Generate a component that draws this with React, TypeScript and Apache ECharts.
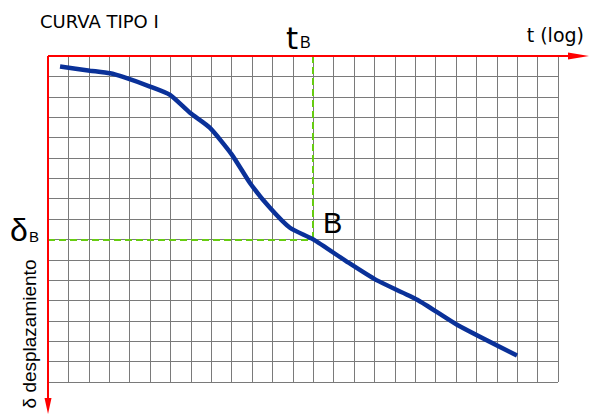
import React, { useEffect, useRef } from "react";
import * as echarts from "echarts";

const curveX = [0.59, 2.06, 3.04, 3.68, 5.0, 5.98, 6.96, 7.94, 9.02, 9.9, 10.88, 11.86, 13, 14.66, 16.1, 18.1, 20.05, 22.99];
const curveY = [0.52, 0.72, 0.85, 1.03, 1.5, 1.91, 2.79, 3.53, 4.85, 6.23, 7.45, 8.43, 9, 10.1, 11.0, 11.96, 13.19, 14.7];
const pointB = [13, 9];
const xMax = 25;
const yMax = 16;

const GL = 48, GT = 56, GW = 510, GH = 326;

export default function App() {
  const ref = useRef<HTMLDivElement>(null);
  useEffect(() => {
    const chart = echarts.init(ref.current!, null, { renderer: "svg" });
    const data = curveX.map((x, i) => [x, curveY[i]]);
    const red = "#ff0000";
    chart.setOption({
      animation: false,
      grid: { left: GL, top: GT, width: GW, height: GH, containLabel: false },
      xAxis: {
        type: "value", min: 0, max: xMax, interval: 1,
        axisLine: { show: false }, axisTick: { show: false }, axisLabel: { show: false },
        splitLine: { show: true, lineStyle: { color: "#7a7a7a", width: 1 } },
      },
      yAxis: {
        type: "value", min: 0, max: yMax, interval: 1, inverse: true,
        axisLine: { show: false }, axisTick: { show: false }, axisLabel: { show: false },
        splitLine: { show: true, lineStyle: { color: "#7a7a7a", width: 1 } },
      },
      series: [
        {
          type: "line",
          data,
          smooth: 0.2,
          symbol: "none",
          lineStyle: { color: "#0a3199", width: 4.5 },
          z: 5,
          markLine: {
            silent: true,
            symbol: "none",
            label: { show: false },
            lineStyle: { color: "#66cc11", width: 2, type: [7, 4] },
            data: [
              [{ coord: [pointB[0], 0] }, { coord: [pointB[0], pointB[1]] }],
              [{ coord: [0, pointB[1]] }, { coord: [pointB[0], pointB[1]] }],
            ],
            z: 3,
          },
        },
      ],
      graphic: [
        { type: "line", shape: { x1: GL, y1: GT, x2: 576, y2: GT }, style: { stroke: red, lineWidth: 2 }, z: 10 },
        { type: "polygon", shape: { points: [[568, GT - 3.5], [589, GT], [568, GT + 3.5]] }, style: { fill: red }, z: 10 },
        { type: "line", shape: { x1: GL, y1: GT, x2: GL, y2: 402 }, style: { stroke: red, lineWidth: 2 }, z: 10 },
        { type: "polygon", shape: { points: [[GL - 3.5, 398], [GL, 414], [GL + 3.5, 398]] }, style: { fill: red }, z: 10 },
        { type: "text", x: 40, y: 21, style: { text: "CURVA TIPO I", font: "18px 'DejaVu Sans'", fill: "#000", align: "left", verticalAlign: "middle" }, z: 10 },
        { type: "text", x: 286, y: 38, style: { text: "t", font: "31px 'DejaVu Sans'", fill: "#000", align: "left", verticalAlign: "middle" }, z: 10 },
        { type: "text", x: 300, y: 42.5, style: { text: "B", font: "16px 'Liberation Sans'", fill: "#000", align: "left", verticalAlign: "middle" }, z: 10 },
        { type: "text", x: 584, y: 35, style: { text: "t (log)", font: "19px 'DejaVu Sans'", fill: "#000", align: "right", verticalAlign: "middle" }, z: 10 },
        { type: "text", x: 10, y: 230, style: { text: "δ", font: "32px 'Liberation Sans'", fill: "#000", align: "left", verticalAlign: "middle" }, z: 10 },
        { type: "text", x: 29, y: 236, style: { text: "B", font: "15px 'Liberation Sans'", fill: "#000", align: "left", verticalAlign: "middle" }, z: 10 },
        { type: "text", x: 323, y: 223, style: { text: "B", font: "29px 'Liberation Sans'", fill: "#000", align: "left", verticalAlign: "middle" }, z: 10 },
        { type: "text", x: 29, y: 334, rotation: Math.PI / 2, style: { text: "δ desplazamiento", font: "19px 'Liberation Sans'", fill: "#000", align: "center", verticalAlign: "middle" }, z: 10 },
      ],
    });
    return () => chart.dispose();
  }, []);
  return <div ref={ref} style={{ position: "fixed", left: 0, top: 0, width: 591, height: 415, background: "#fff" }} />;
}
